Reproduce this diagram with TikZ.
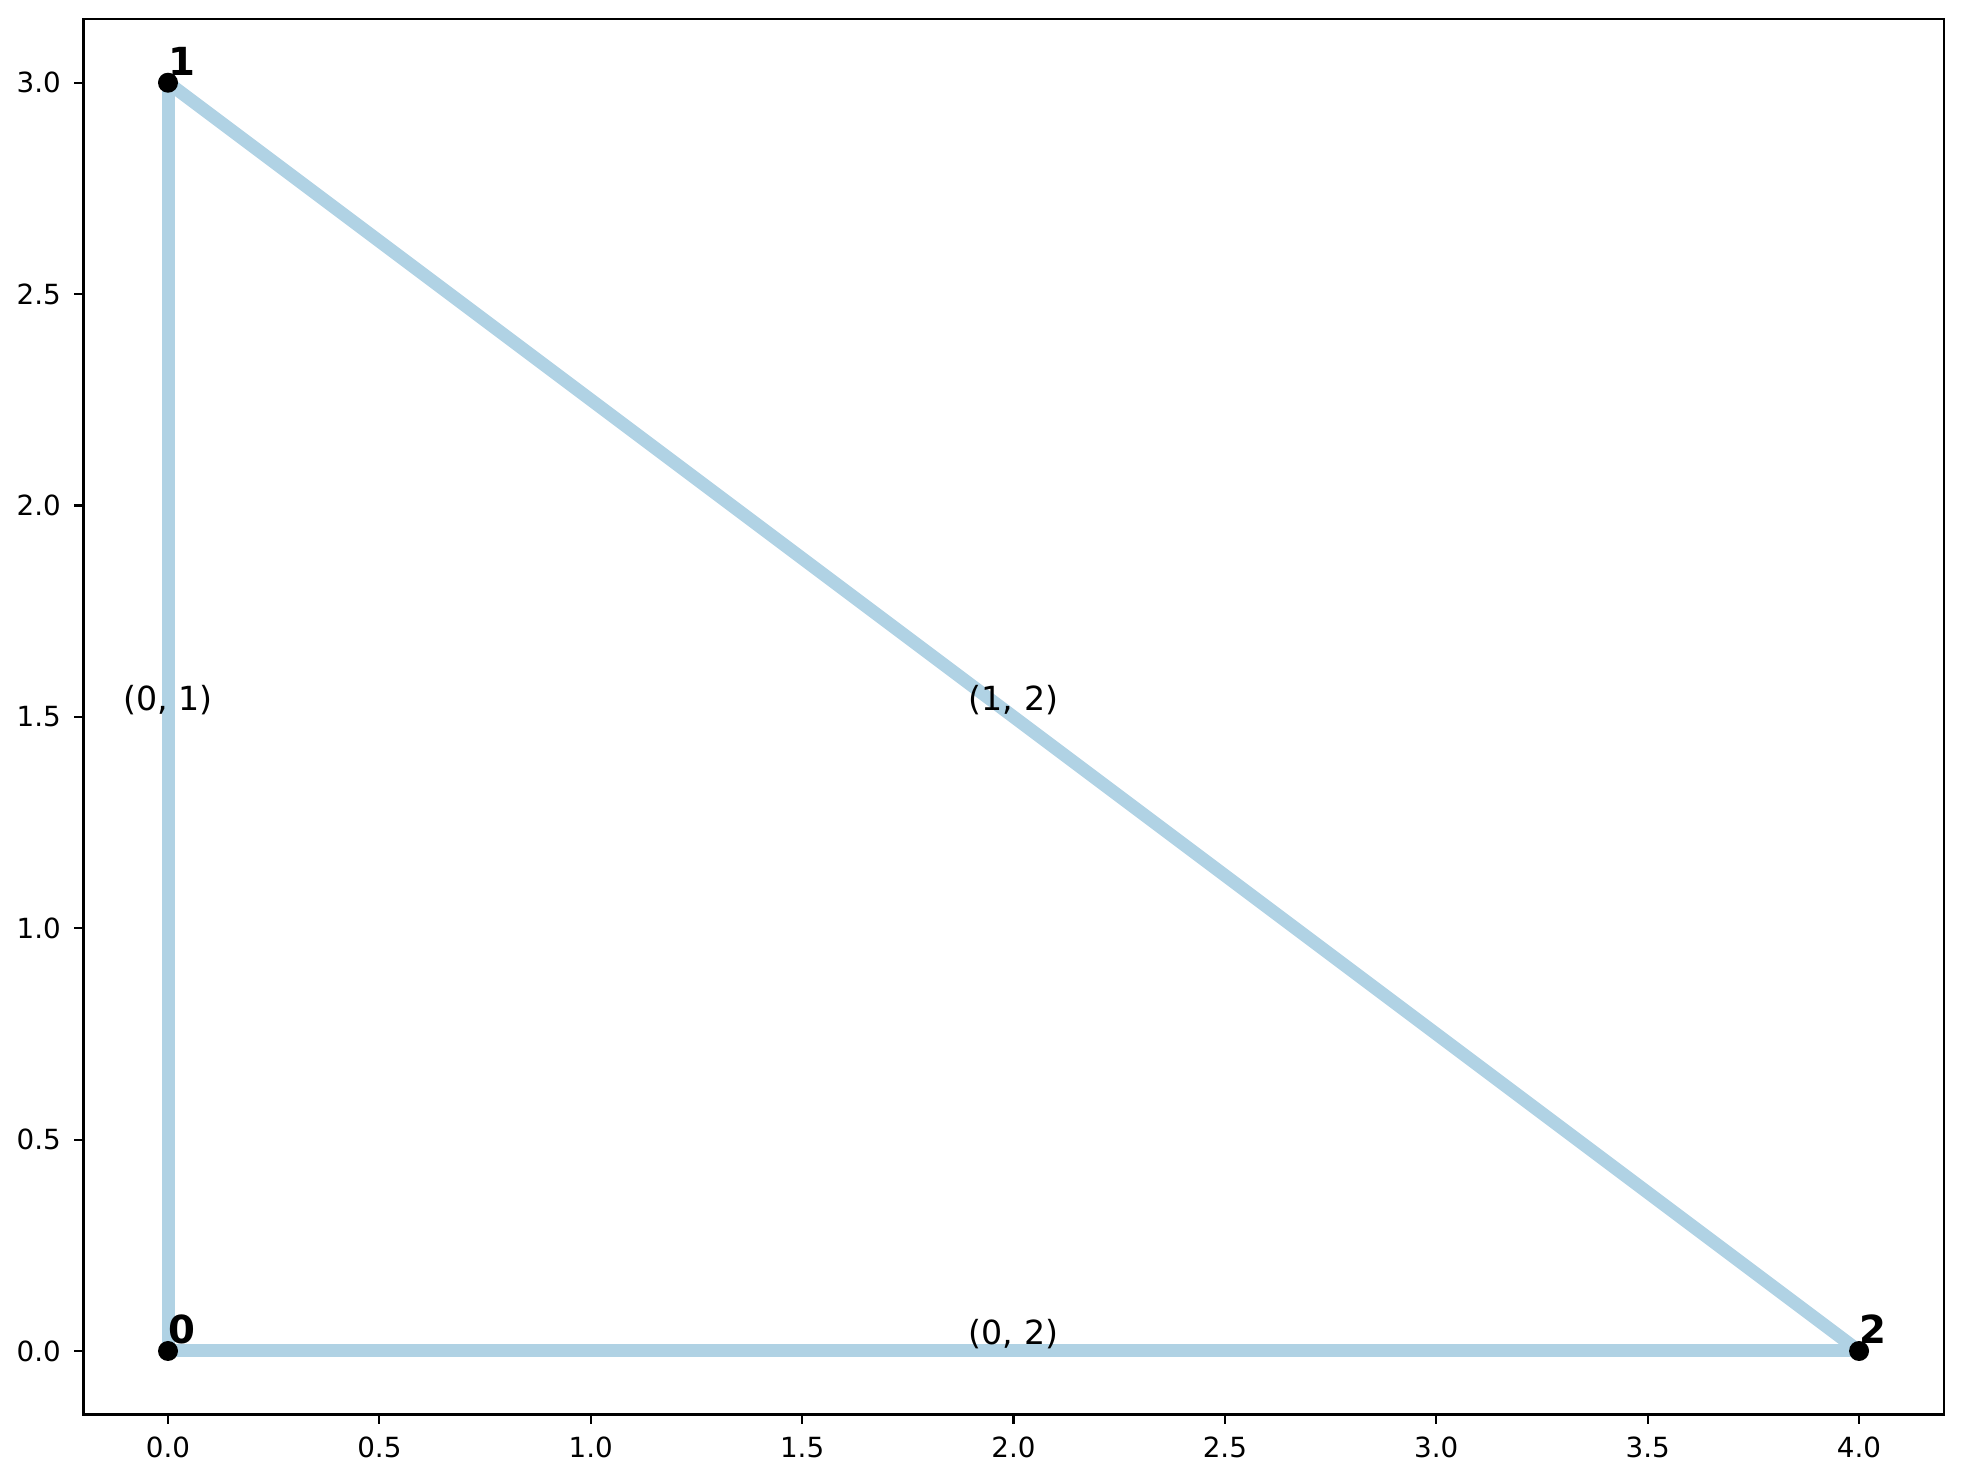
\documentclass[tikz,border=0pt]{standalone}
\usepackage{fontspec}
\setmainfont{DejaVu Sans}
\usetikzlibrary{backgrounds}
\definecolor{edgeblue}{RGB}{176,210,228}
\tikzset{
  vertex/.style = {circle, fill=black, inner sep=0pt, minimum size=0.2cm},
  vlabel/.style = {anchor=base west, inner sep=0pt,
    font=\fontsize{11}{13}\selectfont\bfseries},% vertex number
  elabel/.style = {inner sep=0pt, font=\fontsize{9.45}{11}\selectfont},% edge pair
  edge/.style = {draw=edgeblue, line width=0.13cm, line cap=rect},
  ticklabel/.style = {inner sep=0pt, font=\fontsize{7.9}{9}\selectfont},
  axframe/.style = {draw=black, line width=0.022cm}
}

\begin{document}
\begin{tikzpicture}[x=4.2275cm, y=4.2275cm]
\useasboundingbox (-0.3974,-0.3099) rectangle (4.2459,3.1957);
% axes
\draw[axframe] (-0.2,-0.15) rectangle (4.2,3.15);
\foreach \v in {0.0,0.5,1.0,1.5,2.0,2.5,3.0,3.5,4.0}{
  \draw[axframe] (\v,-0.15) -- ++(0,-0.097cm);
  \node[ticklabel, anchor=north] (xt\v) at (\v,-0.15) [yshift=-0.22cm] {\v};
}
\foreach \v in {0.0,0.5,1.0,1.5,2.0,2.5,3.0}{
  \draw[axframe] (-0.2,\v) -- ++(-0.097cm,0);
  \node[ticklabel, anchor=east] (yt\v) at (-0.2,\v) [xshift=-0.22cm] {\v};
}
% graph
\node[vertex] (v0) at (0,0) {};
\node[vertex] (v1) at (0,3) {};
\node[vertex] (v2) at (4,0) {};
\begin{scope}[on background layer]
  \draw[edge] (v0.center) -- (v1.center);
  \draw[edge] (v1.center) -- (v2.center);
  \draw[edge] (v0.center) -- (v2.center);
\end{scope}
\path (v0.center) -- (v1.center) node[elabel, midway, yshift=0.17cm] (e01) {(0, 1)};
\path (v1.center) -- (v2.center) node[elabel, midway, yshift=0.17cm] (e12) {(1, 2)};
\path (v0.center) -- (v2.center) node[elabel, midway, yshift=0.17cm] (e02) {(0, 2)};
\foreach \i in {0,1,2}
  \node[vlabel] (l\i) at (v\i.center) [yshift=0.075cm] {\i};
\end{tikzpicture}
\end{document}
